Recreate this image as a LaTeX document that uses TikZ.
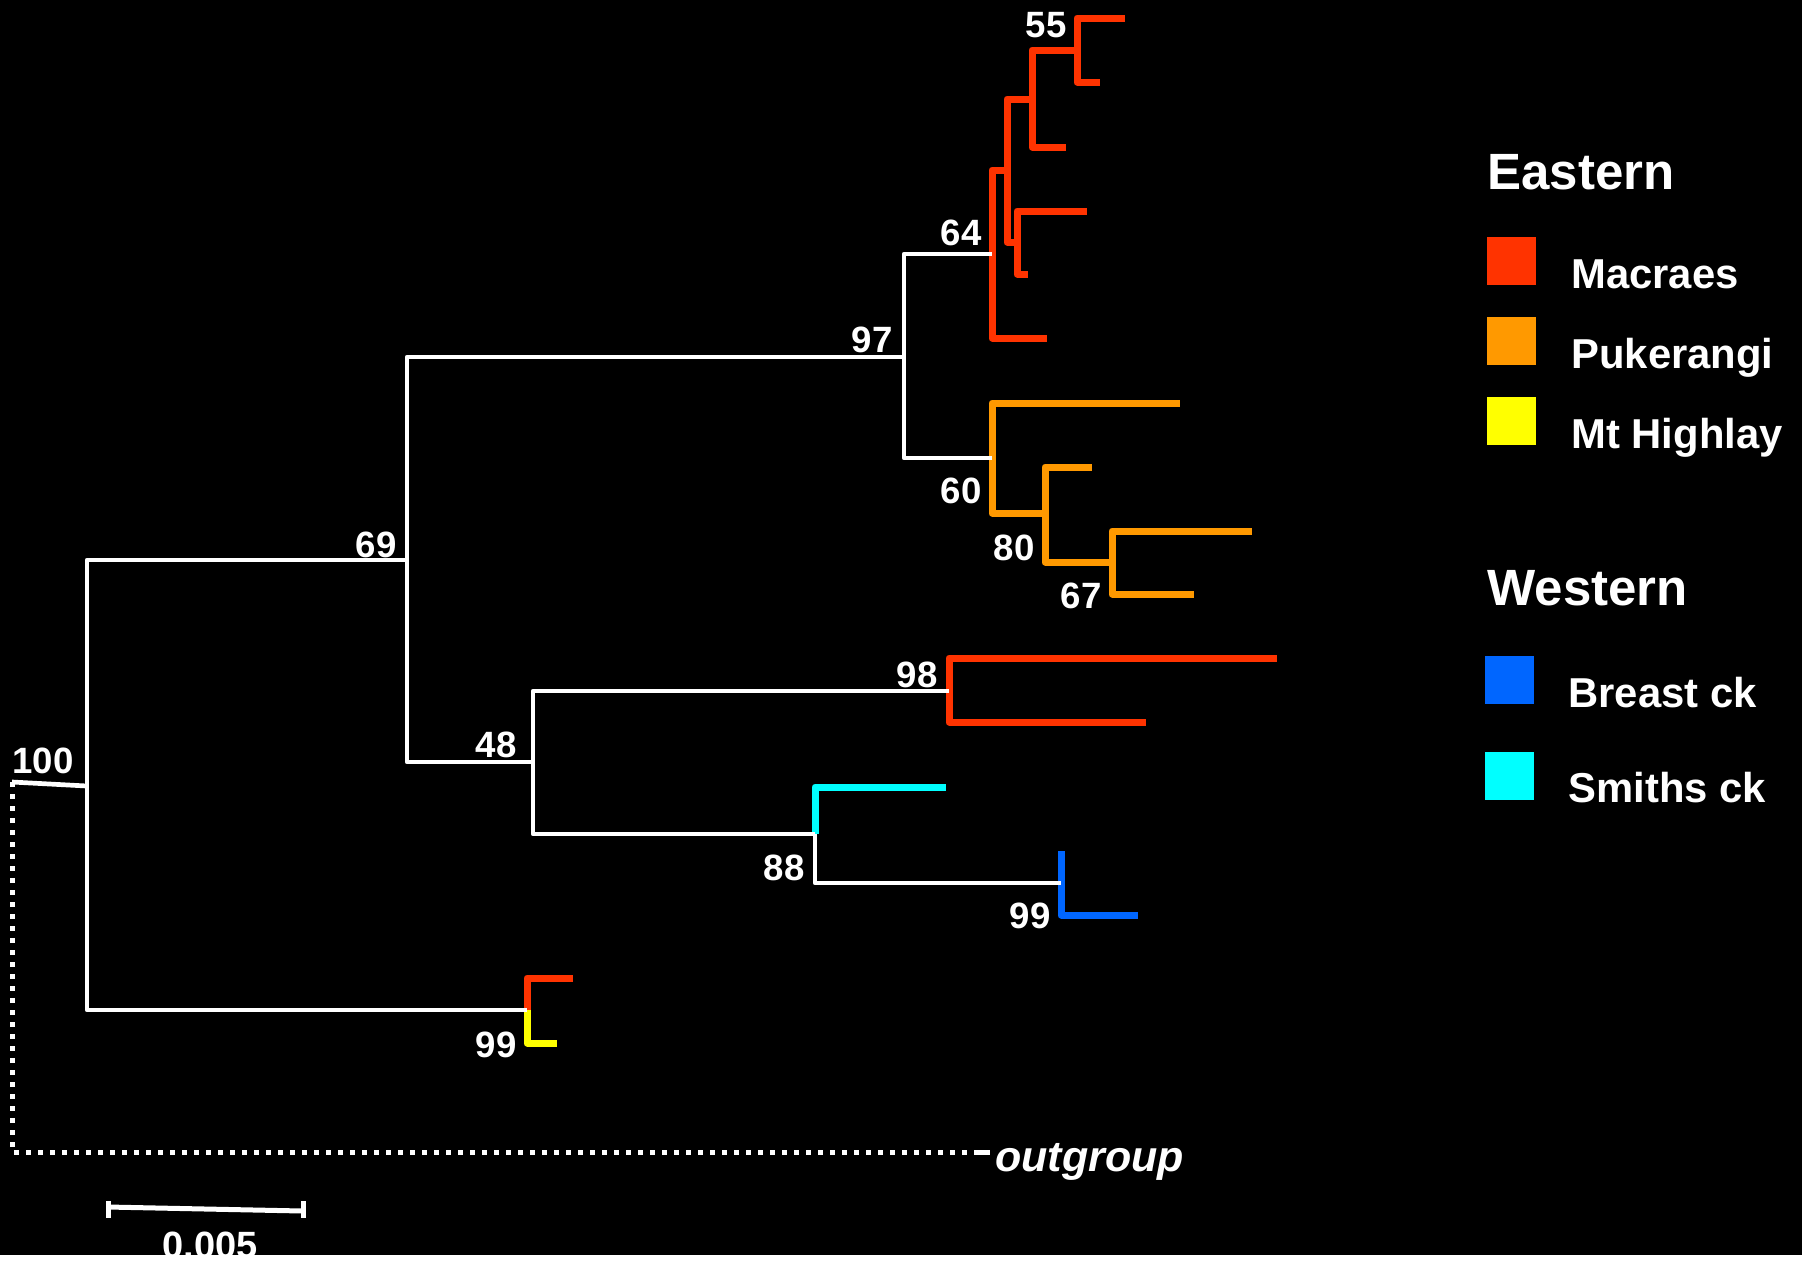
\documentclass[tikz,border=0pt]{standalone}
\usepackage{fontspec}
\setmainfont{Liberation Sans}
\definecolor{macraes}{HTML}{FF3300}
\definecolor{pukerangi}{HTML}{FF9900}
\definecolor{highlay}{HTML}{FFFF00}
\definecolor{breast}{HTML}{0066FF}
\definecolor{smiths}{HTML}{00FFFF}
\begin{document}
\begin{tikzpicture}[x=0.5pt,y=-0.5pt,
  wline/.style={draw=white,line width=2.35pt,line join=round},
  cline/.style={line width=3.5pt,line join=round},
  boot/.style={text=white,inner sep=0pt,anchor=base east,font=\bfseries\fontsize{18.3}{21}\selectfont},
  legtitle/.style={text=white,inner sep=0pt,anchor=base west,font=\bfseries\fontsize{25.5}{30}\selectfont},
  legitem/.style={text=white,inner sep=0pt,anchor=base west,font=\bfseries\fontsize{20.9}{24}\selectfont},
  legsq/.style={inner sep=0pt,minimum width=24.5pt,minimum height=24pt},
  dotline/.style={draw=white,line width=2.5pt,dash pattern=on 2.5pt off 3.5pt}]
\useasboundingbox (0,0) rectangle (1802,1260);
\fill[black] (0,0) rectangle (1802,1260);

% ---- internal nodes ----
\coordinate (root) at (12,782);
\coordinate (n100) at (87,786);
\coordinate (n69) at (407,560);
\coordinate (n97) at (904,357);
\coordinate (n64) at (992,254);
\coordinate (nA) at (1007,170);
\coordinate (nB) at (1017,242);
\coordinate (nC) at (1032,99);
\coordinate (n55) at (1077,50);
\coordinate (n60) at (992,458);
\coordinate (n80) at (1045,513);
\coordinate (n67) at (1112,562);
\coordinate (n48) at (533,762);
\coordinate (n98) at (949,691);
\coordinate (n88) at (815,834);
\coordinate (n99b) at (1061,883);
\coordinate (n99y) at (527,1010);

% ---- tips ----
\coordinate (t55a) at (1125,18);
\coordinate (t55b) at (1100,82);
\coordinate (tC) at (1066,147);
\coordinate (tBa) at (1087,211);
\coordinate (tBb) at (1028,274);
\coordinate (t64) at (1047,338);
\coordinate (t60) at (1180,403);
\coordinate (t80) at (1092,467);
\coordinate (t67a) at (1252,531);
\coordinate (t67b) at (1194,594);
\coordinate (t98a) at (1277,658);
\coordinate (t98b) at (1146,722);
\coordinate (t88) at (946,787);
\coordinate (t99a) at (1061,851);
\coordinate (t99b) at (1138,915);
\coordinate (tyr) at (573,978);
\coordinate (tyy) at (557,1043);
\coordinate (ogdash) at (975,1152);
\coordinate (og) at (990,1152);

% ---- Macraes clade (64) ----
\draw[cline,macraes] (n64) |- (nA);
\draw[cline,macraes] (n64) |- (t64);
\draw[cline,macraes] (nA) |- (nC);
\draw[cline,macraes] (nA) |- (nB);
\draw[cline,macraes] (nC) |- (n55);
\draw[cline,macraes] (nC) |- (tC);
\draw[cline,macraes] (n55) |- (t55a);
\draw[cline,macraes] (n55) |- (t55b);
\draw[cline,macraes] (nB) |- (tBa);
\draw[cline,macraes] (nB) |- (tBb);

% ---- Pukerangi clade (60) ----
\draw[cline,pukerangi] (n60) |- (t60);
\draw[cline,pukerangi] (n60) |- (n80);
\draw[cline,pukerangi] (n80) |- (t80);
\draw[cline,pukerangi] (n80) |- (n67);
\draw[cline,pukerangi] (n67) |- (t67a);
\draw[cline,pukerangi] (n67) |- (t67b);

% ---- Macraes pair (98) ----
\draw[cline,macraes] (n98) |- (t98a);
\draw[cline,macraes] (n98) |- (t98b);

% ---- Western clade (88) ----
\draw[cline,smiths] (n88) |- (t88);
\draw[cline,breast] (n99b) -- (t99a);
\draw[cline,breast] (n99b) |- (t99b);

% ---- Macraes / Mt Highlay pair (99) ----
\draw[cline,macraes] (n99y) |- (tyr);
\draw[cline,highlay] (n99y) |- (tyy);

% ---- backbone ----
\draw[wline] (root) -- (n100);
\draw[wline] (n100) |- (n69);
\draw[wline] (n100) |- (n99y);
\draw[wline] (n69) |- (n97);
\draw[wline] (n69) |- (n48);
\draw[wline] (n97) |- (n64);
\draw[wline] (n97) |- (n60);
\draw[wline] (n48) |- (n98);
\draw[wline] (n48) |- (n88);
\draw[wline] (n88) |- (n99b);

% ---- outgroup ----
\draw[dotline] (root) |- (ogdash);
\draw[draw=white,line width=2.5pt] (ogdash) -- (og);
\node[text=white,inner sep=0pt,anchor=base west,font=\bfseries\itshape\fontsize{21.5}{25}\selectfont] (oglab) at (995,1171) {outgroup};

% ---- bootstrap values ----
\node[boot] (b55) at (1067,37) {55};
\node[boot] (b64) at (982,245) {64};
\node[boot] (b97) at (893,352) {97};
\node[boot] (b69) at (397,557) {69};
\node[boot] (b60) at (982,503) {60};
\node[boot] (b80) at (1035,560) {80};
\node[boot] (b67) at (1102,608) {67};
\node[boot] (b98) at (938,687) {98};
\node[boot] (b48) at (517,757) {48};
\node[boot,anchor=base west] (b100) at (12,773) {100};
\node[boot] (b88) at (805,880) {88};
\node[boot] (b99b) at (1051,928) {99};
\node[boot] (b99y) at (517,1057) {99};

% ---- scale bar ----
\coordinate (sbL) at (108,1207);
\coordinate (sbR) at (303,1211);
\draw[white,line width=2.5pt] (sbL) -- (sbR);
\draw[white,line width=2.5pt] (sbL) ++(0,-6) -- ++(0,17);
\draw[white,line width=2.5pt] (sbR) ++(0,-10) -- ++(0,17);
\node[text=white,inner sep=0pt,anchor=base west,font=\bfseries\fontsize{19}{22}\selectfont] (sblab) at (162,1258) {0.005};
\fill[white] (0,1255) rectangle (1802,1260);

% ---- legend ----
\node[legtitle] (east) at (1487,189) {Eastern};
\node[legsq,fill=macraes] (sqM) at (1511.5,261) {};
\node[legitem] (lM) at (1571,288) {Macraes};
\node[legsq,fill=pukerangi] (sqP) at (1511.5,341) {};
\node[legitem] (lP) at (1571,368) {Pukerangi};
\node[legsq,fill=highlay] (sqH) at (1511.5,421) {};
\node[legitem] (lH) at (1571,448) {Mt Highlay};
\node[legtitle] (west) at (1487,605) {Western};
\node[legsq,fill=breast] (sqB) at (1509.5,680) {};
\node[legitem] (lB) at (1568,707) {Breast ck};
\node[legsq,fill=smiths] (sqS) at (1509.5,776) {};
\node[legitem] (lS) at (1568,802) {Smiths ck};
\end{tikzpicture}
\end{document}
